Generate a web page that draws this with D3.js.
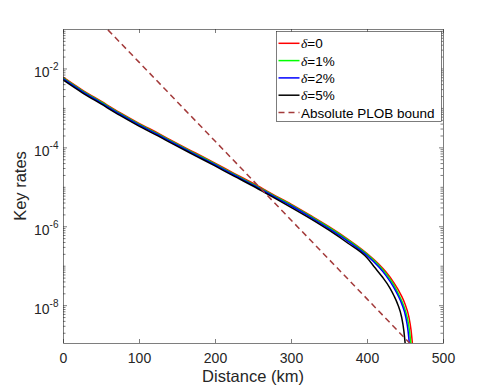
<!DOCTYPE html>
<html><head><meta charset="utf-8">
<script src="https://cdn.jsdelivr.net/npm/d3@7/dist/d3.min.js"></script>
<style>
html,body{margin:0;padding:0;background:#fff;}
svg{display:block;font-family:"Liberation Sans",Arial,sans-serif;}
</style></head>
<body><svg id="c" width="491" height="387"></svg>
<script>
// ---- data ----
const distRed   = [0,25,50,75,100,125,150,175,200,225,250,275,300,325,350,375,400,415,425,435,445,450,455,458,460];
const logRed    = [-2.22,-2.54,-2.83,-3.12,-3.39,-3.64,-3.90,-4.15,-4.40,-4.66,-4.91,-5.18,-5.44,-5.72,-6.01,-6.33,-6.69,-6.95,-7.16,-7.42,-7.75,-7.97,-8.29,-8.64,-9.03];
const distGreen = [0,25,50,75,100,125,150,175,200,225,250,275,300,325,350,375,400,415,425,435,443,448,453,456,458];
const logGreen  = [-2.24,-2.56,-2.85,-3.14,-3.41,-3.66,-3.92,-4.17,-4.42,-4.68,-4.93,-5.20,-5.46,-5.74,-6.03,-6.35,-6.71,-6.98,-7.20,-7.48,-7.78,-8.00,-8.32,-8.66,-9.03];
const distBlue  = [0,25,50,75,100,125,150,175,200,225,250,275,300,325,350,375,400,415,425,435,441,446,451,454,456];
const logBlue   = [-2.26,-2.58,-2.87,-3.16,-3.43,-3.68,-3.94,-4.19,-4.44,-4.70,-4.95,-5.22,-5.48,-5.76,-6.06,-6.38,-6.74,-7.02,-7.25,-7.54,-7.76,-7.98,-8.30,-8.65,-9.03];
const distBlack = [0,25,50,75,100,125,150,175,200,225,250,275,300,325,350,375,400,410,420,430,435.5,440.5,445.5,448.5,450.5];
const logBlack  = [-2.29,-2.61,-2.90,-3.19,-3.46,-3.71,-3.97,-4.22,-4.47,-4.73,-4.98,-5.25,-5.52,-5.80,-6.10,-6.43,-6.80,-7.04,-7.28,-7.56,-7.76,-7.98,-8.30,-8.65,-9.03];
const distPLOB  = [50,100,200,300,400,470];
const logPLOB   = [-0.84,-1.84,-3.84,-5.84,-7.84,-9.24];
const seriesNames  = ["\u03b4=0","\u03b4=1%","\u03b4=2%","\u03b4=5%"];
const seriesColors = ["#ff0000","#00ff00","#0000ff","#000000"];
const plobName = "Absolute PLOB bound";
const plobColor = "#a33a3a";
const xTicks = [0,100,200,300,400,500];
const yMajorExp = [-8,-6,-4,-2];
const xLabel = "Distance (km)";
const yLabel = "Key rates";

// ---- layout ----
const L=63, R=443, T=29, B=343;
const svg = d3.select("#c");
const x = d3.scaleLinear().domain([0,500]).range([L,R]);
const y = d3.scaleLog().domain([1.1e-9,1e-1]).range([B,T]);
const axisCol = "#262626";

const series = [
  {d:distRed,l:logRed},{d:distGreen,l:logGreen},{d:distBlue,l:logBlue},{d:distBlack,l:logBlack}
].map((s,i)=>({name:seriesNames[i],color:seriesColors[i],pts:s.d.map((v,j)=>[v,Math.pow(10,s.l[j])])}));
const plob = distPLOB.map((v,j)=>[v,Math.pow(10,logPLOB[j])]);

svg.append("defs").append("clipPath").attr("id","clip")
  .append("rect").attr("x",L).attr("y",T).attr("width",R-L).attr("height",B-T);

const line = d3.line().x(d=>x(d[0])).y(d=>y(d[1])).curve(d3.curveMonotoneX);
const g = svg.append("g").attr("clip-path","url(#clip)");
series.forEach(s=>{
  g.append("path").attr("d",line(s.pts)).attr("fill","none")
   .attr("stroke",s.color).attr("stroke-width",1.5);
});
g.append("path").attr("d",d3.line().x(d=>x(d[0])).y(d=>y(d[1]))(plob)).attr("fill","none")
  .attr("stroke",plobColor).attr("stroke-width",1.5).attr("stroke-dasharray","6,4");

// minor tick values
const minorVals=[];
for(let e=-9;e<=-2;e++){for(let n=1;n<=9;n++){const v=n*Math.pow(10,e); if(v>=1.1e-9&&v<=1e-1&&!(n===1&&yMajorExp.includes(e))) minorVals.push(v);}}
const majorVals = yMajorExp.map(e=>Math.pow(10,e));

function styleAxis(sel){
  sel.select(".domain").attr("stroke",axisCol).attr("stroke-width",0.6);
  sel.selectAll(".tick line").attr("stroke",axisCol).attr("stroke-width",0.6);
}
// bottom
const gx = svg.append("g").attr("transform",`translate(0,${B})`)
  .call(d3.axisBottom(x).tickValues(xTicks).tickSize(-4).tickSizeOuter(0).tickPadding(10).tickFormat(d3.format("d")));
styleAxis(gx);
gx.selectAll("text").attr("font-size",14).attr("fill",axisCol).attr("font-family","Liberation Sans, Arial, sans-serif");
// top
const gt = svg.append("g").attr("transform",`translate(0,${T})`)
  .call(d3.axisTop(x).tickValues(xTicks).tickSize(-4).tickSizeOuter(0).tickFormat(""));
styleAxis(gt);
// left major
const gy = svg.append("g").attr("transform",`translate(${L},0)`)
  .call(d3.axisLeft(y).tickValues(majorVals).tickSize(-4).tickSizeOuter(0).tickFormat(""));
styleAxis(gy);
const gym = svg.append("g").attr("transform",`translate(${L},0)`)
  .call(d3.axisLeft(y).tickValues(minorVals).tickSize(-2.5).tickSizeOuter(0).tickFormat(""));
styleAxis(gym); gym.select(".domain").remove();
// right
const gr = svg.append("g").attr("transform",`translate(${R},0)`)
  .call(d3.axisRight(y).tickValues(majorVals).tickSize(-4).tickSizeOuter(0).tickFormat(""));
styleAxis(gr);
const grm = svg.append("g").attr("transform",`translate(${R},0)`)
  .call(d3.axisRight(y).tickValues(minorVals).tickSize(-2.5).tickSizeOuter(0).tickFormat(""));
styleAxis(grm); grm.select(".domain").remove();

// y tick labels with superscripts
yMajorExp.forEach(e=>{
  const yy = y(Math.pow(10,e));
  const t = svg.append("text").attr("x",58.5).attr("y",yy+9).attr("text-anchor","end")
    .attr("fill",axisCol).attr("font-size",14);
  t.append("tspan").text("10");
  t.append("tspan").attr("font-size",10).attr("dy",-7.3).text("-"+Math.abs(e));
});

// axis labels
svg.append("text").attr("x",(L+R)/2).attr("y",381.5).attr("text-anchor","middle")
  .attr("font-size",16.5).attr("fill",axisCol).text(xLabel);
svg.append("text").attr("transform",`translate(26,${(T+B)/2}) rotate(-90)`).attr("text-anchor","middle")
  .attr("font-size",16.5).attr("fill",axisCol).text(yLabel);

// legend
const lg = svg.append("g");
lg.append("rect").attr("x",276.5).attr("y",31.5).attr("width",165).attr("height",90)
  .attr("fill","#fff").attr("stroke",axisCol).attr("stroke-width",0.6);
const rowY = i=>43.3+i*17.3;
series.forEach((s,i)=>{
  lg.append("line").attr("x1",278.5).attr("x2",299.5).attr("y1",rowY(i)).attr("y2",rowY(i))
    .attr("stroke",s.color).attr("stroke-width",1.5);
  const t = lg.append("text").attr("x",301).attr("y",rowY(i)+5).attr("font-size",13.5).attr("fill","#000");
  t.append("tspan").attr("font-style","italic").attr("font-family","Liberation Serif, serif").text(s.name.slice(0,1));
  t.append("tspan").text(s.name.slice(1));
});
lg.append("line").attr("x1",278.5).attr("x2",299.5).attr("y1",rowY(4)).attr("y2",rowY(4))
  .attr("stroke",plobColor).attr("stroke-width",1.5).attr("stroke-dasharray","6,4");
lg.append("text").attr("x",301).attr("y",rowY(4)+5).attr("font-size",13.5).attr("fill","#000").text(plobName);
</script></body></html>
